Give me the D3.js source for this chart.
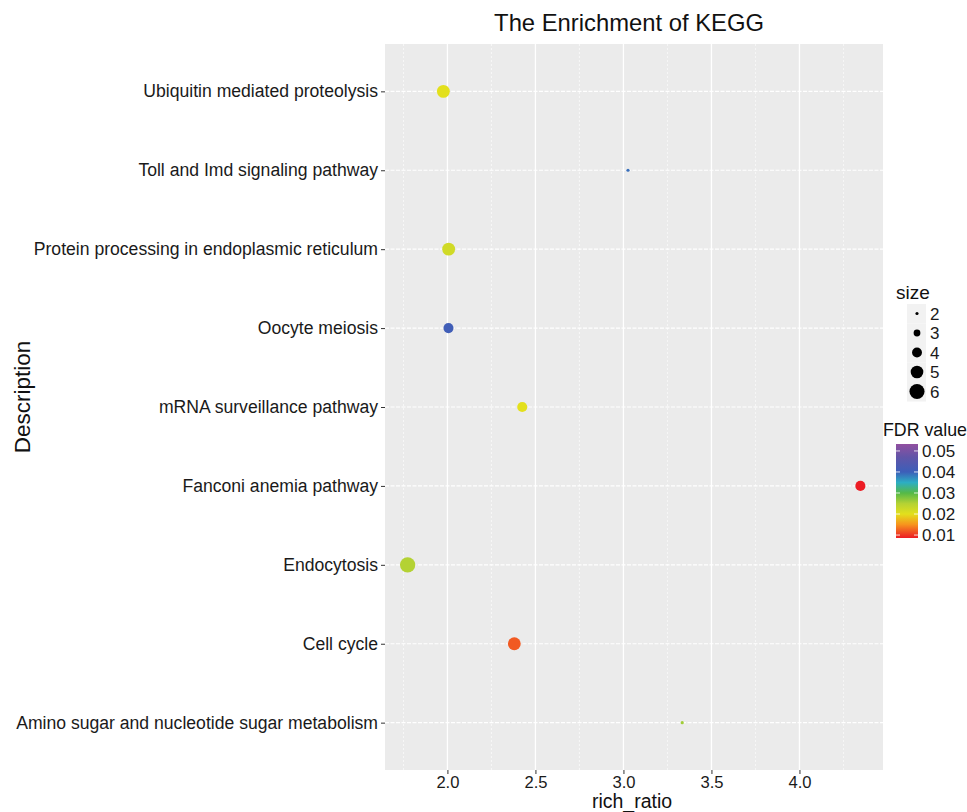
<!DOCTYPE html>
<html>
<head>
<meta charset="utf-8">
<script src="https://cdn.jsdelivr.net/npm/d3@7"></script>
<style>
  body { margin: 0; background: #fff; }
  text { font-family: "Liberation Sans", Arial, Helvetica, sans-serif; }
</style>
</head>
<body>
<div id="chart"></div>
<script>
// Pathways, top to bottom
const pathways = [
    "Ubiquitin mediated proteolysis",
    "Toll and Imd signaling pathway",
    "Protein processing in endoplasmic reticulum",
    "Oocyte meiosis",
    "mRNA surveillance pathway",
    "Fanconi anemia pathway",
    "Endocytosis",
    "Cell cycle",
    "Amino sugar and nucleotide sugar metabolism"
];
const richRatio = [1.977, 3.026, 2.007, 2.006, 2.425, 4.346, 1.774, 2.38, 3.334];
const geneCount = [5, 2, 5, 4, 4, 4, 6, 5, 2];
const fdrValue = [0.020, 0.039, 0.022, 0.041, 0.020, 0.0086, 0.025, 0.012, 0.026];

const xTicks = [2.0, 2.5, 3.0, 3.5, 4.0];
const xMinor = [1.75, 2.25, 2.75, 3.25, 3.75, 4.25];
const sizeBreaks = [2, 3, 4, 5, 6];
const fdrBreaks = [0.01, 0.02, 0.03, 0.04, 0.05];
const fdrLimits = [0.0086, 0.0533];
// colour ramp of the FDR scale
const fdrStops = [0.0086, 0.012, 0.015, 0.02, 0.025, 0.03, 0.035, 0.04, 0.047, 0.0533];
const fdrColours = ["#ec1c24", "#f15a22", "#f7941d", "#e3e01c", "#b4d234", "#55b947",
    "#2caec4", "#3c5fb9", "#6155a8", "#9150a0"];

const width = 967, height = 812;
const panel = {left: 385, right: 883, top: 44, bottom: 770};

let svg = d3.select("#chart")
    .append("svg")
    .attr("width", width)
    .attr("height", height);

// x scale with ggplot style 5% expansion
let xExt = d3.extent(richRatio);
let xPad = (xExt[1] - xExt[0]) * 0.05;
let x = d3.scaleLinear()
    .domain([xExt[0] - xPad, xExt[1] + xPad])
    .range([panel.left, panel.right]);

let y = d3.scalePoint()
    .domain(pathways)
    .range([panel.top, panel.bottom])
    .padding(0.6);

let r = d3.scaleSqrt().domain([2, 6]).range([1.6, 7.7]);

let colour = d3.scaleLinear()
    .domain(fdrStops)
    .range(fdrColours)
    .clamp(true);

// Panel background
svg.append("rect")
    .attr("x", panel.left)
    .attr("y", panel.top)
    .attr("width", panel.right - panel.left)
    .attr("height", panel.bottom - panel.top)
    .attr("fill", "#ebebeb");

// Grid lines
let grid = svg.append("g");
grid.selectAll(".minor")
    .data(xMinor)
    .enter().append("line")
    .attr("x1", d => x(d)).attr("x2", d => x(d))
    .attr("y1", panel.top).attr("y2", panel.bottom)
    .attr("stroke", "#fafafa")
    .attr("stroke-width", 0.8)
    .attr("stroke-dasharray", "2,2");
grid.selectAll(".major")
    .data(xTicks)
    .enter().append("line")
    .attr("x1", d => x(d)).attr("x2", d => x(d))
    .attr("y1", panel.top).attr("y2", panel.bottom)
    .attr("stroke", "#ffffff")
    .attr("stroke-width", 1.3);
grid.selectAll(".hline")
    .data(pathways)
    .enter().append("line")
    .attr("x1", panel.left).attr("x2", panel.right)
    .attr("y1", d => y(d)).attr("y2", d => y(d))
    .attr("stroke", "#ffffff")
    .attr("stroke-width", 1.2)
    .attr("stroke-dasharray", "4,1.5");

// Axes
let xAxis = svg.append("g")
    .attr("transform", `translate(0, ${panel.bottom})`)
    .call(d3.axisBottom(x).tickValues(xTicks).tickFormat(d3.format(".1f")).tickSize(4).tickPadding(2));
let yAxis = svg.append("g")
    .attr("transform", `translate(${panel.left}, 0)`)
    .call(d3.axisLeft(y).tickSize(4).tickPadding(3));
[xAxis, yAxis].forEach(function(a) {
    a.select(".domain").remove();
    a.selectAll(".tick line").attr("stroke", "#333333").attr("stroke-width", 1);
    a.selectAll(".tick text")
        .attr("fill", "#1a1a1a")
        .style("font-size", "17.6px")
        .style("font-family", "'Liberation Sans', Arial, sans-serif");
});
xAxis.selectAll(".tick text").style("font-size", "16.6px");

// Points
svg.append("g")
    .selectAll("circle")
    .data(pathways)
    .enter().append("circle")
    .attr("cx", (d, i) => x(richRatio[i]))
    .attr("cy", d => y(d))
    .attr("r", (d, i) => r(geneCount[i]))
    .attr("fill", (d, i) => colour(fdrValue[i]));

// Titles
svg.append("text")
    .attr("x", 629).attr("y", 31)
    .attr("text-anchor", "middle")
    .style("font-size", "23.8px")
    .attr("fill", "#111")
    .text("The Enrichment of KEGG");
svg.append("text")
    .attr("x", 632).attr("y", 808)
    .attr("text-anchor", "middle")
    .style("font-size", "19.5px")
    .attr("fill", "#111")
    .text("rich_ratio");
svg.append("text")
    .attr("transform", `translate(${30}, ${(panel.top + panel.bottom) / 2 - 10}) rotate(-90)`)
    .attr("text-anchor", "middle")
    .style("font-size", "22.5px")
    .attr("fill", "#111")
    .text("Description");

// Size legend
let sizeLegend = svg.append("g").attr("transform", "translate(895, 0)");
sizeLegend.append("text")
    .attr("x", 1).attr("y", 299)
    .style("font-size", "19px")
    .attr("fill", "#111")
    .text("size");
let keys = sizeLegend.selectAll(".key")
    .data(sizeBreaks)
    .enter().append("g")
    .attr("transform", (d, i) => `translate(0, ${304 + i * 19.5})`);
keys.append("rect")
    .attr("x", 12).attr("y", 0)
    .attr("width", 19).attr("height", 19.5)
    .attr("fill", "#f2f2f2");
keys.append("circle")
    .attr("cx", 22).attr("cy", 9.5)
    .attr("r", d => r(d) * 0.98)
    .attr("fill", "#000");
keys.append("text")
    .attr("x", 35).attr("y", 15.5)
    .style("font-size", "17px")
    .attr("fill", "#1a1a1a")
    .text(d => d);

// FDR colour bar
let barTop = 444, barBottom = 538, barLeft = 896, barW = 22;
let fdrY = d3.scaleLinear().domain(fdrLimits).range([barBottom, barTop]);
let defs = svg.append("defs");
let grad = defs.append("linearGradient")
    .attr("id", "fdrGrad")
    .attr("x1", 0).attr("y1", 1).attr("x2", 0).attr("y2", 0);
grad.selectAll("stop")
    .data(fdrStops)
    .enter().append("stop")
    .attr("offset", d => (d - fdrLimits[0]) / (fdrLimits[1] - fdrLimits[0]))
    .attr("stop-color", (d, i) => fdrColours[i]);
svg.append("text")
    .attr("x", 883).attr("y", 436)
    .style("font-size", "17.8px")
    .attr("fill", "#111")
    .text("FDR value");
svg.append("rect")
    .attr("x", barLeft).attr("y", barTop)
    .attr("width", barW).attr("height", barBottom - barTop)
    .attr("fill", "url(#fdrGrad)");
let fdrTicks = svg.append("g");
fdrTicks.selectAll(".tl")
    .data(fdrBreaks)
    .enter().append("line")
    .attr("x1", barLeft).attr("x2", barLeft + 4)
    .attr("y1", d => fdrY(d)).attr("y2", d => fdrY(d))
    .attr("stroke", "#fff").attr("stroke-opacity", 0.8);
fdrTicks.selectAll(".tr")
    .data(fdrBreaks)
    .enter().append("line")
    .attr("x1", barLeft + barW - 4).attr("x2", barLeft + barW)
    .attr("y1", d => fdrY(d)).attr("y2", d => fdrY(d))
    .attr("stroke", "#fff").attr("stroke-opacity", 0.8);
fdrTicks.selectAll("text")
    .data(fdrBreaks)
    .enter().append("text")
    .attr("x", barLeft + barW + 4)
    .attr("y", d => fdrY(d) + 6)
    .style("font-size", "17px")
    .attr("fill", "#1a1a1a")
    .text(d => d3.format(".2f")(d));
</script>
</body>
</html>
